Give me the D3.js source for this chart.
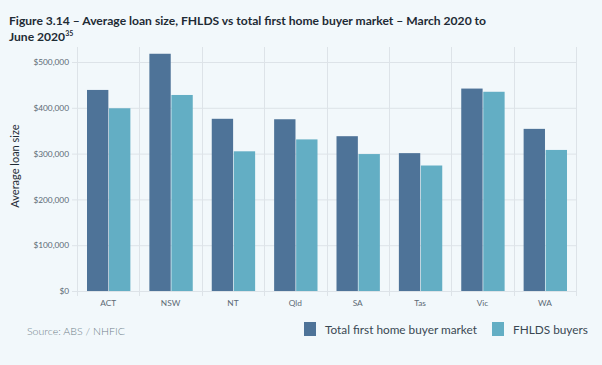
<!DOCTYPE html>
<html><head><meta charset="utf-8">
<script src="https://cdn.jsdelivr.net/npm/d3@7"></script>
<style>
html,body{margin:0;padding:0;background:#f2f8fb;}
svg{display:block;}
</style></head>
<body>
<svg id="chart" width="602" height="365"></svg>
<script>
const categories = ["ACT","NSW","NT","Qld","SA","Tas","Vic","WA"];
const totalMarket = [439000, 518000, 376000, 375000, 338000, 301000, 442000, 354000];
const fhldsBuyers = [399000, 428000, 305000, 331000, 299000, 274000, 435000, 308000];
const seriesNames = ["Total first home buyer market", "FHLDS buyers"];
const yTicks = [0, 100000, 200000, 300000, 400000, 500000];

const colors = ["#4e7398", "#63aec4"];
const svg = d3.select("#chart");
const plotLeft = 77, plotRight = 576, plotTop = 47, plotBottom = 291;

const y = d3.scaleLinear().domain([0, 500000]).range([plotBottom, 62]);
const x = d3.scaleBand().domain(categories).range([plotLeft, plotRight]).paddingInner(0).paddingOuter(0);
const inner = d3.scaleBand().domain([0,1]).range([10, x.bandwidth()-9]).paddingInner(0.03);

// Title
const title = svg.append("text").attr("font-family","Lato").attr("font-weight","bold")
  .attr("font-size", 12.1).attr("fill","#1e2b35");
title.append("tspan").attr("x", 9).attr("y", 25)
  .text("Figure 3.14 \u2013 Average loan size, FHLDS vs total first home buyer market \u2013 March 2020 to");
title.append("tspan").attr("x", 9).attr("y", 41).text("June 2020");
title.append("tspan").attr("font-size", 7).attr("dy", -5).text("35");

// horizontal gridlines
svg.append("g").selectAll("line").data(yTicks).join("line")
  .attr("x1", plotLeft-5).attr("x2", plotRight).attr("y1", d=>y(d)+0.5).attr("y2", d=>y(d)+0.5)
  .attr("stroke", "#dde3e8").attr("stroke-width", 1);

// vertical separators
const seps = categories.map((c,i)=> x(c) + x.bandwidth()).concat([plotLeft]);
svg.append("g").selectAll("line").data(seps).join("line")
  .attr("x1", d=>Math.round(d)+0.5).attr("x2", d=>Math.round(d)+0.5)
  .attr("y1", plotTop).attr("y2", plotBottom+5)
  .attr("stroke", "#dde3e8").attr("stroke-width", 1);

// y tick labels
const yAxis = d3.axisLeft(y).tickValues(yTicks).tickSize(0).tickPadding(0)
  .tickFormat(d => "$" + d3.format(",")(d));
const ya = svg.append("g").attr("transform", `translate(${plotLeft-8},0)`).call(yAxis);
ya.select(".domain").remove();
ya.selectAll("text").attr("font-family","Lato").attr("font-size", 8.3).attr("fill","#5c6a75");

// x tick labels
const xAxis = d3.axisBottom(x).tickSize(0).tickPadding(0);
const xa = svg.append("g").attr("transform", `translate(0,${plotBottom+9})`).call(xAxis);
xa.select(".domain").remove();
xa.selectAll("text").attr("font-family","Lato").attr("font-size", 8.3).attr("fill","#5c6a75");

// bars
const data = categories.map((c,i)=>({c, vals:[totalMarket[i], fhldsBuyers[i]]}));
const g = svg.append("g").selectAll("g").data(data).join("g")
  .attr("transform", d=>`translate(${x(d.c)},0)`);
g.selectAll("rect").data(d=>d.vals.map((v,j)=>({v,j}))).join("rect")
  .attr("x", d=>inner(d.j)).attr("width", inner.bandwidth())
  .attr("y", d=>y(d.v)).attr("height", d=>plotBottom - y(d.v))
  .attr("fill", d=>colors[d.j]);

// y axis title
svg.append("text").attr("transform","translate(19,166) rotate(-90)")
  .attr("text-anchor","middle").attr("font-family","Lato").attr("font-size", 11)
  .attr("fill","#1e2b35").text("Average loan size");

// source
svg.append("text").attr("x", 27).attr("y", 335).attr("font-family","Lato").attr("font-weight", 300)
  .attr("font-size", 10.6).attr("fill","#6f7f8a").text("Source: ABS / NHFIC");

// legend
const legendX = [304, 492];
const lg = svg.append("g").selectAll("g").data(seriesNames).join("g")
  .attr("transform", (d,i)=>`translate(${legendX[i]},322)`);
lg.append("rect").attr("width", 12).attr("height", 14).attr("fill", (d,i)=>colors[i]);
lg.append("text").attr("x", 21).attr("y", 11.5).attr("font-family","Lato")
  .attr("font-size", 11.8).attr("fill","#3a4853").text(d=>d);
</script>
</body></html>
